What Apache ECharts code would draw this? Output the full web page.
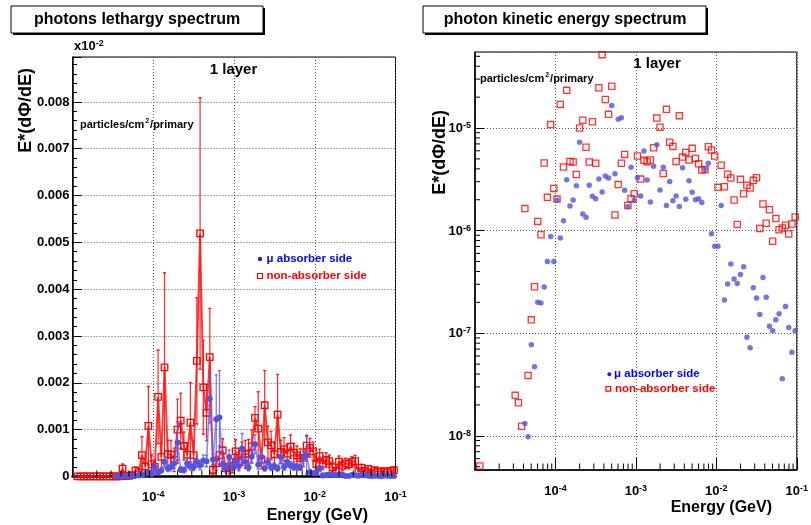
<!DOCTYPE html>
<html><head><meta charset="utf-8">
<script src="https://cdn.jsdelivr.net/npm/echarts@6/dist/echarts.min.js"></script>
<style>html,body{margin:0;padding:0;background:#fff;}#c{width:811px;height:525px;}</style>
</head><body><div id="c"></div>
<script>
// bin centres (GeV), 25 log bins per decade from 1e-5 to 1e-1
const energy = [
1.047e-5,1.148e-5,1.259e-5,1.380e-5,1.514e-5,1.660e-5,1.820e-5,1.995e-5,2.188e-5,2.399e-5,2.630e-5,2.884e-5,3.162e-5,3.467e-5,3.802e-5,4.169e-5,4.571e-5,5.012e-5,5.495e-5,6.026e-5,6.607e-5,7.244e-5,7.943e-5,8.710e-5,9.550e-5,
1.047e-4,1.148e-4,1.259e-4,1.380e-4,1.514e-4,1.660e-4,1.820e-4,1.995e-4,2.188e-4,2.399e-4,2.630e-4,2.884e-4,3.162e-4,3.467e-4,3.802e-4,4.169e-4,4.571e-4,5.012e-4,5.495e-4,6.026e-4,6.607e-4,7.244e-4,7.943e-4,8.710e-4,9.550e-4,
1.047e-3,1.148e-3,1.259e-3,1.380e-3,1.514e-3,1.660e-3,1.820e-3,1.995e-3,2.188e-3,2.399e-3,2.630e-3,2.884e-3,3.162e-3,3.467e-3,3.802e-3,4.169e-3,4.571e-3,5.012e-3,5.495e-3,6.026e-3,6.607e-3,7.244e-3,7.943e-3,8.710e-3,9.550e-3,
1.047e-2,1.148e-2,1.259e-2,1.380e-2,1.514e-2,1.660e-2,1.820e-2,1.995e-2,2.188e-2,2.399e-2,2.630e-2,2.884e-2,3.162e-2,3.467e-2,3.802e-2,4.169e-2,4.571e-2,5.012e-2,5.495e-2,6.026e-2,6.607e-2,7.244e-2,7.943e-2,8.710e-2,9.550e-2];

// mu absorber side (blue)
const blueVals = [
null,null,null,null,null,null,null,null,null,null,null,null,null,0,0,1.32e-8,9.82e-9,7.73e-8,4.72e-8,2.00e-7,1.97e-7,2.82e-7,5.01e-7,8.79e-7,5.01e-7,
1.99e-6,8.47e-7,1.25e-6,3.13e-6,1.74e-6,1.99e-6,2.74e-6,7.26e-6,1.45e-6,1.35e-6,2.77e-6,2.16e-6,2.05e-6,3.18e-6,2.38e-6,3.40e-6,3.26e-6,1.66e-5,3.59e-6,1.22e-5,1.26e-5,2.47e-6,1.71e-6,4.14e-6,1.97e-6,
3.28e-6,2.17e-6,5.97e-6,3.11e-6,1.90e-6,4.23e-6,6.89e-6,2.49e-6,4.14e-6,1.76e-6,3.02e-6,1.95e-6,2.17e-6,1.72e-6,4.10e-6,2.02e-6,3.07e-6,2.36e-6,2.00e-6,2.05e-6,1.88e-6,3.98e-6,4.53e-6,9.33e-7,7.03e-7,
7.03e-7,1.76e-6,2.11e-7,3.02e-7,4.73e-7,3.37e-7,3.06e-7,3.73e-7,4.44e-7,9.12e-8,7.23e-8,2.78e-7,2.20e-7,1.52e-7,3.49e-7,2.24e-7,1.17e-7,1.06e-7,1.35e-7,1.55e-7,3.61e-8,1.82e-7,1.14e-7,6.52e-8,1.06e-7];
const blueErrs = [
null,null,null,null,null,null,null,null,null,null,null,null,null,0,0,1e-8,1e-8,5e-8,4e-8,1.2e-7,1.2e-7,1.5e-7,2.5e-7,4e-7,2.5e-7,
8e-7,4e-7,5e-7,1.2e-6,7e-7,8e-7,1.0e-6,4.4e-6,6e-7,6e-7,1.0e-6,8e-7,8e-7,1.2e-6,9e-7,1.2e-6,1.2e-6,5.2e-6,1.2e-6,9.5e-6,1.0e-5,8e-7,6e-7,1.5e-6,7e-7,
1.1e-6,8e-7,3.2e-6,1.0e-6,7e-7,1.4e-6,2.0e-6,9e-7,1.3e-6,6e-7,1.0e-6,7e-7,7e-7,6e-7,1.3e-6,7e-7,1.0e-6,8e-7,7e-7,7e-7,6e-7,1.3e-6,4.0e-6,4e-7,3e-7,
3e-7,6e-7,1e-7,1.2e-7,1.5e-7,1.2e-7,1.2e-7,1.3e-7,1.5e-7,5e-8,4e-8,1e-7,1e-7,7e-8,1.2e-7,1e-7,6e-8,6e-8,7e-8,7e-8,3e-8,8e-8,6e-8,4e-8,6e-8];

// non-absorber side (red)
const redVals = [
null,5.08e-9,0,0,0,0,0,0,0,0,0,0,2.48e-8,2.10e-8,1.24e-8,1.64e-6,3.88e-8,1.35e-7,2.84e-7,1.23e-6,9.12e-7,4.56e-6,2.11e-6,1.08e-5,2.58e-6,
2.03e-6,1.70e-5,4.17e-6,2.33e-5,4.73e-6,4.67e-6,3.53e-6,1.00e-5,1.19e-5,6.49e-6,4.67e-6,1.15e-5,4.53e-6,2.47e-5,5.19e-5,1.90e-5,1.36e-5,2.55e-5,1.42e-6,2.81e-6,4.53e-6,5.53e-6,1.76e-6,2.05e-6,2.29e-6,
5.33e-6,3.18e-6,4.84e-6,4.70e-6,4.88e-6,6.43e-6,1.25e-5,1.02e-5,3.61e-6,1.52e-5,7.26e-6,6.62e-6,4.73e-6,1.32e-5,5.21e-6,5.79e-6,4.88e-6,6.34e-6,5.06e-6,4.49e-6,3.90e-6,3.95e-6,6.58e-6,6.11e-6,5.33e-6,
2.64e-6,4.33e-6,2.68e-6,3.54e-6,3.26e-6,1.99e-6,1.15e-6,3.16e-6,2.29e-6,2.77e-6,2.60e-6,3.09e-6,3.28e-6,1.05e-6,1.82e-6,1.18e-6,1.60e-6,7.87e-7,1.31e-6,1.02e-6,1.06e-6,1.13e-6,9.27e-7,1.16e-6,1.36e-6];
const redErrs = [
null,0,0,0,0,0,0,0,0,0,0,0,2e-8,2e-8,1e-8,1.0e-6,3e-8,1e-7,2e-7,8e-7,6e-7,3.9e-6,1.5e-6,8.4e-6,2.0e-6,
1.5e-6,1.0e-5,3.0e-6,2.02e-5,3.0e-6,3.0e-6,2.5e-6,6.5e-6,5.9e-6,3.0e-6,2.5e-6,8.5e-6,3.0e-6,1.35e-5,2.9e-5,1.0e-5,6.0e-6,1.04e-5,1.0e-6,1.5e-6,2.0e-6,2.5e-6,1.0e-6,1.5e-6,1.5e-6,
2.5e-6,2.0e-6,2.5e-6,3.0e-6,3.0e-6,3.5e-6,2.4e-6,7.9e-6,2.0e-6,7.4e-6,3.5e-6,3.0e-6,2.5e-6,8.6e-6,2.5e-6,2.5e-6,2.0e-6,2.5e-6,2.0e-6,2.0e-6,2.0e-6,1.8e-6,2.2e-6,2.0e-6,2.0e-6,
1.2e-6,1.5e-6,1.2e-6,1.5e-6,1.3e-6,1.0e-6,7e-7,1.2e-6,1.0e-6,1.1e-6,1.0e-6,1.1e-6,1.2e-6,6e-7,8e-7,6e-7,7e-7,5e-7,6e-7,5e-7,5e-7,5e-7,5e-7,5e-7,6e-7];

// tick labels
const leftYTickLabels = ['0','0.001','0.002','0.003','0.004','0.005','0.006','0.007','0.008'];
const xTickExponents = ['-4','-3','-2','-1'];
const rightYTickExponents = ['-8','-7','-6','-5'];

const yMaxLeft = 8.96e-5;
const yMinRight = 4.645e-9, yMaxRight = 5.508e-5;

const FONT = '"Liberation Sans", Arial, Helvetica, sans-serif';
const BLUE = '#5353dd';
const RED = '#ff0000';

function pts(vals, skipZero) {
  const out = [];
  for (let i = 0; i < energy.length; i++) {
    const v = vals[i];
    if (v === null || v === undefined) continue;
    if (skipZero && !(v > 0)) continue;
    out.push([energy[i], v]);
  }
  return out;
}
function errPts(vals, errs) {
  const out = [];
  for (let i = 0; i < energy.length; i++) {
    if (vals[i] === null || !(errs[i] > 0)) continue;
    out.push([energy[i], vals[i], errs[i]]);
  }
  return out;
}
function errSeries(vals, errs, color, z) {
  return {
    type: 'custom', xAxisIndex: 0, yAxisIndex: 0, z: z, silent: true, clip: true,
    data: errPts(vals, errs), encode: { x: 0, y: 1 },
    renderItem: function (params, api) {
      const x = api.value(0), y = api.value(1), e = api.value(2);
      const lo = api.coord([x, Math.max(0, y - e)]);
      const hi = api.coord([x, y + e]);
      return { type: 'group', children: [
        { type: 'line', shape: { x1: lo[0], y1: lo[1], x2: hi[0], y2: hi[1] }, style: { stroke: color, lineWidth: 1.2 } },
        { type: 'line', shape: { x1: hi[0] - 1.6, y1: hi[1], x2: hi[0] + 1.6, y2: hi[1] }, style: { stroke: color, lineWidth: 1.4 } },
        { type: 'line', shape: { x1: lo[0] - 1.6, y1: lo[1], x2: lo[0] + 1.6, y2: lo[1] }, style: { stroke: color, lineWidth: 1.4 } }
      ] };
    }
  };
}
// log minor tick positions (2..9 x 10^n)
function logMinor(nFrom, nTo, lo, hi) {
  const out = [];
  for (let n = nFrom; n <= nTo; n++) for (let k = 2; k <= 9; k++) {
    const v = k * Math.pow(10, n);
    if (v > lo && v < hi) out.push(v);
  }
  return out;
}
function tickSeries(gi, values, base, horizontal, len) {
  return {
    type: 'custom', xAxisIndex: gi, yAxisIndex: gi, silent: true, clip: false, z: 5,
    data: values.map(v => horizontal ? [base, v] : [v, base]),
    renderItem: function (params, api) {
      const p = api.coord([api.value(0), api.value(1)]);
      const shape = horizontal ? { x1: p[0], y1: p[1], x2: p[0] + len, y2: p[1] }
                               : { x1: p[0], y1: p[1], x2: p[0], y2: p[1] - len };
      return { type: 'line', shape: shape, style: { stroke: '#000', lineWidth: 1 } };
    }
  };
}

const richLab = {
  b: { fontSize: 13, fontWeight: 'bold', fontFamily: FONT, color: '#000', verticalAlign: 'bottom', lineHeight: 14 },
  s: { fontSize: 9, fontWeight: 'bold', fontFamily: FONT, color: '#000', verticalAlign: 'top', lineHeight: 9, padding: [0, 0, 7, 0] }
};
function powLabel(list) {
  return function (v) {
    let e;
    if (v > 0) e = Math.log10(v); else e = v;
    const r = Math.round(e);
    if (Math.abs(e - r) > 1e-6) return '';
    const s = String(r);
    return list.indexOf(s) >= 0 ? '{b|10}{s|' + s + '}' : '';
  };
}
const splitStyle = { show: true, lineStyle: { color: '#555', width: 1, type: [1, 2] } };

const xAxisCommon = {
  type: 'log', logBase: 10, min: 1e-5, max: 0.1,
  axisLine: { show: true, onZero: false, lineStyle: { color: '#000', width: 1.5 } },
  axisTick: { show: true, inside: true, length: 12, lineStyle: { color: '#000', width: 1 } },
  minorTick: { show: false },
  splitLine: splitStyle,
  axisLabel: { formatter: powLabel(xTickExponents), rich: richLab, margin: 14, showMinLabel: false, showMaxLabel: true }
};

const chart = echarts.init(document.getElementById('c'), null, { renderer: 'canvas' });
const option = {
  animation: false,
  backgroundColor: '#fff',
  grid: [
    { left: 72.5, top: 57, width: 323, height: 419.4, show: true, borderColor: '#000', borderWidth: 1, backgroundColor: 'transparent' },
    { left: 475, top: 52, width: 324, height: 418, show: true, borderColor: '#000', borderWidth: 1, backgroundColor: 'transparent' }
  ],
  xAxis: [
    Object.assign({}, xAxisCommon, { gridIndex: 0, axisLine: { show: true, onZero: false, lineStyle: { color: '#000', width: 2.5 } } }),
    Object.assign({}, xAxisCommon, { gridIndex: 1 })
  ],
  yAxis: [
    { type: 'value', gridIndex: 0, min: 0, max: yMaxLeft, interval: 1e-5,
      axisLine: { show: true, lineStyle: { color: '#000', width: 1.5 } },
      axisTick: { show: true, inside: true, length: 9, lineStyle: { color: '#000' } },
      minorTick: { show: true, splitNumber: 5, length: 4.5, lineStyle: { color: '#000' } },
      splitLine: splitStyle,
      axisLabel: { margin: 3, fontSize: 13, fontWeight: 'bold', fontFamily: FONT, color: '#000', showMaxLabel: false,
        formatter: function (v) { const i = Math.round(v / 1e-5); return (Math.abs(v / 1e-5 - i) < 1e-6 && leftYTickLabels[i] !== undefined) ? leftYTickLabels[i] : ''; } }
    },
    { type: 'log', logBase: 10, gridIndex: 1, min: yMinRight, max: yMaxRight,
      axisLine: { show: true, lineStyle: { color: '#000', width: 1.5 } },
      axisTick: { show: true, inside: true, length: 9, lineStyle: { color: '#000' } },
      minorTick: { show: false },
      splitLine: splitStyle,
      axisLabel: { formatter: powLabel(rightYTickExponents), rich: richLab, margin: 4, showMinLabel: false, showMaxLabel: false }
    }
  ],
  series: [
    errSeries(redVals, redErrs, 'rgba(255,0,0,0.85)', 2),
    { name: 'non-absorber side', type: 'line', xAxisIndex: 0, yAxisIndex: 0, z: 2, data: pts(redVals, false),
      symbol: 'rect', symbolSize: 6.5, showAllSymbol: true, clip: true,
      lineStyle: { color: 'rgba(255,20,20,0.85)', width: 1.9 },
      itemStyle: { color: 'rgba(255,255,255,0)', borderColor: RED, borderWidth: 1.3 } },
    errSeries(blueVals, blueErrs, 'rgba(90,90,230,0.85)', 3),
    { name: 'mu absorber side', type: 'line', xAxisIndex: 0, yAxisIndex: 0, z: 3, data: pts(blueVals, false),
      symbol: 'circle', symbolSize: 6, showAllSymbol: true, clip: true,
      lineStyle: { color: 'rgba(100,100,235,0.75)', width: 1.6 },
      itemStyle: { color: BLUE } },
    { type: 'scatter', xAxisIndex: 1, yAxisIndex: 1, z: 2, data: pts(redVals, true),
      symbol: 'rect', symbolSize: 6.2,
      itemStyle: { color: 'rgba(255,255,255,0)', borderColor: RED, borderWidth: 1.3 } },
    { type: 'scatter', xAxisIndex: 1, yAxisIndex: 1, z: 3, data: pts(blueVals, true),
      symbol: 'circle', symbolSize: 5.5, itemStyle: { color: BLUE } },
    tickSeries(0, logMinor(-5, -2, 1e-5, 0.1), 0, false, 6),
    tickSeries(1, logMinor(-5, -2, 1e-5, 0.1), yMinRight, false, 6.5),
    tickSeries(1, logMinor(-9, -5, yMinRight, yMaxRight), 1e-5, true, 5)
  ],
  graphic: [
    // title boxes
    { type: 'rect', shape: { x: 13, y: 8, width: 252, height: 27 }, style: { fill: '#000' }, z: 10 },
    { type: 'rect', shape: { x: 11, y: 6, width: 252, height: 27 }, style: { fill: '#fff', stroke: '#000', lineWidth: 1 }, z: 11 },
    { type: 'text', x: 137, y: 20, z: 12, style: { text: 'photons lethargy spectrum', font: 'bold 16px ' + FONT, fill: '#000', align: 'center', verticalAlign: 'middle' } },
    { type: 'rect', shape: { x: 425, y: 8, width: 283, height: 27 }, style: { fill: '#000' }, z: 10 },
    { type: 'rect', shape: { x: 423, y: 6, width: 283, height: 27 }, style: { fill: '#fff', stroke: '#000', lineWidth: 1 }, z: 11 },
    { type: 'text', x: 565, y: 20, z: 12, style: { text: 'photon kinetic energy spectrum', font: 'bold 16px ' + FONT, fill: '#000', align: 'center', verticalAlign: 'middle' } },
    // exponent note
    { type: 'text', x: 74, y: 46, z: 12, style: { text: '{b|x10}{s|-2}', align: 'left', verticalAlign: 'middle',
        rich: { b: { fontSize: 13, fontWeight: 'bold', fontFamily: FONT, fill: '#000', verticalAlign: 'bottom', lineHeight: 14 },
                s: { fontSize: 9, fontWeight: 'bold', fontFamily: FONT, fill: '#000', verticalAlign: 'top', lineHeight: 9, padding: [0, 0, 7, 0] } } } },
    // 1 layer
    { type: 'text', x: 233.5, y: 70, z: 12, style: { text: '1 layer', font: 'bold 15px ' + FONT, fill: '#000', align: 'center', verticalAlign: 'middle' } },
    { type: 'text', x: 657, y: 64, z: 12, style: { text: '1 layer', font: 'bold 15px ' + FONT, fill: '#000', align: 'center', verticalAlign: 'middle' } },
    // units
    { type: 'text', x: 80, y: 124, z: 12, style: { text: '{a|particles/cm}{s|2}{a|/primary}', align: 'left', verticalAlign: 'middle',
        rich: { a: { fontSize: 11, fontWeight: 'bold', fontFamily: FONT, fill: '#000', verticalAlign: 'bottom', lineHeight: 12 },
                s: { fontSize: 7, fontWeight: 'bold', fontFamily: FONT, fill: '#000', verticalAlign: 'top', lineHeight: 7, padding: [0, 1, 7, 1] } } } },
    { type: 'text', x: 480, y: 78, z: 12, style: { text: '{a|particles/cm}{s|2}{a|/primary}', align: 'left', verticalAlign: 'middle',
        rich: { a: { fontSize: 11, fontWeight: 'bold', fontFamily: FONT, fill: '#000', verticalAlign: 'bottom', lineHeight: 12 },
                s: { fontSize: 7, fontWeight: 'bold', fontFamily: FONT, fill: '#000', verticalAlign: 'top', lineHeight: 7, padding: [0, 1, 7, 1] } } } },
    // axis titles
    { type: 'text', x: 26, y: 68, rotation: Math.PI / 2, z: 12, style: { text: 'E*(dΦ/dE)', font: 'bold 18px ' + FONT, fill: '#000', align: 'right', verticalAlign: 'middle' } },
    { type: 'text', x: 440, y: 110, rotation: Math.PI / 2, z: 12, style: { text: 'E*(dΦ/dE)', font: 'bold 18px ' + FONT, fill: '#000', align: 'right', verticalAlign: 'middle' } },
    { type: 'text', x: 368, y: 516, z: 12, style: { text: 'Energy (GeV)', font: 'bold 16px ' + FONT, fill: '#000', align: 'right', verticalAlign: 'middle' } },
    { type: 'text', x: 772, y: 508, z: 12, style: { text: 'Energy (GeV)', font: 'bold 16px ' + FONT, fill: '#000', align: 'right', verticalAlign: 'middle' } },
    // legends
    { type: 'circle', shape: { cx: 260, cy: 259, r: 2.2 }, style: { fill: '#2020e0' }, z: 12 },
    { type: 'text', x: 266.5, y: 259, z: 12, style: { text: 'μ absorber side', font: 'bold 11.5px ' + FONT, fill: '#0000ff', align: 'left', verticalAlign: 'middle' } },
    { type: 'rect', shape: { x: 257.5, y: 273.5, width: 5, height: 5 }, style: { fill: 'none', stroke: RED, lineWidth: 1.2 }, z: 12 },
    { type: 'text', x: 266.5, y: 276, z: 12, style: { text: 'non-absorber side', font: 'bold 11.5px ' + FONT, fill: '#ff0000', align: 'left', verticalAlign: 'middle' } },
    { type: 'circle', shape: { cx: 609.3, cy: 374.3, r: 2 }, style: { fill: '#2020e0' }, z: 12 },
    { type: 'text', x: 614, y: 374.3, z: 12, style: { text: 'μ absorber side', font: 'bold 11.5px ' + FONT, fill: '#0000ff', align: 'left', verticalAlign: 'middle' } },
    { type: 'rect', shape: { x: 606, y: 386.5, width: 4.6, height: 4.6 }, style: { fill: 'none', stroke: RED, lineWidth: 1.2 }, z: 12 },
    { type: 'text', x: 615, y: 388.7, z: 12, style: { text: 'non-absorber side', font: 'bold 11.5px ' + FONT, fill: '#ff0000', align: 'left', verticalAlign: 'middle' } }
  ]
};
chart.setOption(option);
</script>
</body></html>
